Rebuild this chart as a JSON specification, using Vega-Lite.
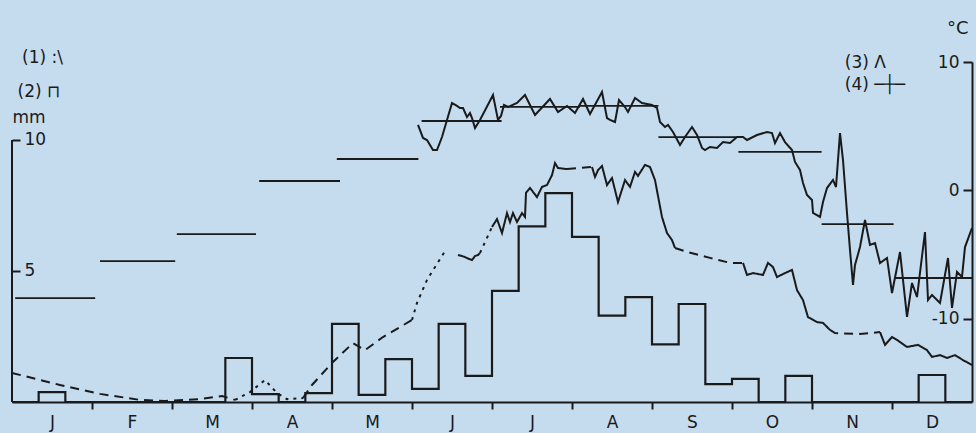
{
  "$schema": "https://vega.github.io/schema/vega-lite/v6.json",
  "width": 960,
  "height": 340,
  "autosize": {"type": "none"},
  "padding": {"left": 12, "top": 62, "right": 4, "bottom": 31},
  "background": "#c5dcef",
  "config": {
    "view": {"stroke": null},
    "axis": {"labelFont": "DejaVu Sans", "titleFont": "DejaVu Sans", "labelColor": "#1a1a1a", "titleColor": "#1a1a1a", "domainColor": "#1a1a1a", "tickColor": "#1a1a1a", "grid": false, "domainWidth": 2, "tickWidth": 2, "labelFontSize": 17, "titleFontWeight": "normal"},
    "text": {"font": "DejaVu Sans", "color": "#1a1a1a"}
  },
  "datasets": {
    "precip": [
      {"m": 0, "mm": 0}, {"m": 0.3333, "mm": 0.38}, {"m": 0.6667, "mm": 0}, {"m": 1, "mm": 0}, {"m": 1.3333, "mm": 0}, {"m": 1.6667, "mm": 0},
      {"m": 2, "mm": 0}, {"m": 2.3333, "mm": 0}, {"m": 2.6667, "mm": 1.68}, {"m": 3, "mm": 0.3}, {"m": 3.3333, "mm": 0}, {"m": 3.6667, "mm": 0.34},
      {"m": 4, "mm": 2.98}, {"m": 4.3333, "mm": 0.27}, {"m": 4.6667, "mm": 1.64}, {"m": 5, "mm": 0.5}, {"m": 5.3333, "mm": 2.98}, {"m": 5.6667, "mm": 1.0},
      {"m": 6, "mm": 4.24}, {"m": 6.3333, "mm": 6.7}, {"m": 6.6667, "mm": 7.97}, {"m": 7, "mm": 6.3}, {"m": 7.3333, "mm": 3.3}, {"m": 7.6667, "mm": 4.0},
      {"m": 8, "mm": 2.2}, {"m": 8.3333, "mm": 3.74}, {"m": 8.6667, "mm": 0.68}, {"m": 9, "mm": 0.88}, {"m": 9.3333, "mm": 0}, {"m": 9.6667, "mm": 1.0},
      {"m": 10, "mm": 0}, {"m": 10.3333, "mm": 0}, {"m": 10.6667, "mm": 0}, {"m": 11, "mm": 0}, {"m": 11.3333, "mm": 1.03}, {"m": 11.6667, "mm": 0},
      {"m": 12, "mm": 0}
    ],
    "curve1": [
      {"s": "A", "k": "dashed", "m": 0, "mm": 1.11}, {"s": "A", "k": "dashed", "m": 0.6, "mm": 0.65}, {"s": "A", "k": "dashed", "m": 1.1, "mm": 0.31}, {"s": "A", "k": "dashed", "m": 1.6, "mm": 0.08}, {"s": "A", "k": "dashed", "m": 1.9125, "mm": 0.04}, {"s": "A", "k": "dashed", "m": 2.35, "mm": 0.11}, {"s": "A", "k": "dashed", "m": 2.625, "mm": 0.23}, {"s": "A", "k": "dashed", "m": 2.7875, "mm": 0.08},
      {"s": "B", "k": "dotted", "m": 2.7875, "mm": 0.08}, {"s": "B", "k": "dotted", "m": 2.975, "mm": 0.38}, {"s": "B", "k": "dotted", "m": 3.1625, "mm": 0.84}, {"s": "B", "k": "dotted", "m": 3.3125, "mm": 0.34}, {"s": "B", "k": "dotted", "m": 3.4375, "mm": 0.11}, {"s": "B", "k": "dotted", "m": 3.6375, "mm": 0.15},
      {"s": "C", "k": "dashed", "m": 3.6375, "mm": 0.15}, {"s": "C", "k": "dashed", "m": 3.75, "mm": 0.65}, {"s": "C", "k": "dashed", "m": 4.0125, "mm": 1.53}, {"s": "C", "k": "dashed", "m": 4.2625, "mm": 2.25}, {"s": "C", "k": "dashed", "m": 4.4125, "mm": 1.98}, {"s": "C", "k": "dashed", "m": 4.6375, "mm": 2.48}, {"s": "C", "k": "dashed", "m": 5.0, "mm": 3.13},
      {"s": "D", "k": "dotted", "m": 5.0, "mm": 3.13}, {"s": "D", "k": "dotted", "m": 5.0625, "mm": 3.78}, {"s": "D", "k": "dotted", "m": 5.1875, "mm": 4.66}, {"s": "D", "k": "dotted", "m": 5.4125, "mm": 5.76},
      {"s": "E", "k": "solid", "m": 5.575, "mm": 5.61}, {"s": "E", "k": "solid", "m": 5.625, "mm": 5.57}, {"s": "E", "k": "solid", "m": 5.6625, "mm": 5.53}, {"s": "E", "k": "solid", "m": 5.7125, "mm": 5.46}, {"s": "E", "k": "solid", "m": 5.75, "mm": 5.42}, {"s": "E", "k": "solid", "m": 5.7875, "mm": 5.57}, {"s": "E", "k": "solid", "m": 5.825, "mm": 5.61}, {"s": "E", "k": "solid", "m": 5.85, "mm": 5.69},
      {"s": "F", "k": "dotted", "m": 5.85, "mm": 5.69}, {"s": "F", "k": "dotted", "m": 5.925, "mm": 6.18}, {"s": "F", "k": "dotted", "m": 6.0, "mm": 6.68},
      {"s": "G", "k": "solid", "m": 6.0, "mm": 6.68}, {"s": "G", "k": "solid", "m": 6.0625, "mm": 6.98}, {"s": "G", "k": "solid", "m": 6.125, "mm": 6.45}, {"s": "G", "k": "solid", "m": 6.1875, "mm": 7.21}, {"s": "G", "k": "solid", "m": 6.225, "mm": 6.87}, {"s": "G", "k": "solid", "m": 6.2625, "mm": 7.21}, {"s": "G", "k": "solid", "m": 6.3125, "mm": 6.87}, {"s": "G", "k": "solid", "m": 6.375, "mm": 7.21}, {"s": "G", "k": "solid", "m": 6.4125, "mm": 7.06}, {"s": "G", "k": "solid", "m": 6.425, "mm": 7.98}, {"s": "G", "k": "solid", "m": 6.475, "mm": 8.17}, {"s": "G", "k": "solid", "m": 6.5625, "mm": 7.82}, {"s": "G", "k": "solid", "m": 6.625, "mm": 8.21}, {"s": "G", "k": "solid", "m": 6.6875, "mm": 8.28}, {"s": "G", "k": "solid", "m": 6.75, "mm": 8.66}, {"s": "G", "k": "solid", "m": 6.7875, "mm": 9.12}, {"s": "G", "k": "solid", "m": 6.825, "mm": 8.93}, {"s": "G", "k": "solid", "m": 6.9375, "mm": 8.89},
      {"s": "H", "k": "dashed", "m": 6.9375, "mm": 8.89}, {"s": "H", "k": "dashed", "m": 7.1, "mm": 8.93}, {"s": "H", "k": "dashed", "m": 7.25, "mm": 8.97},
      {"s": "I", "k": "solid", "m": 7.25, "mm": 8.97}, {"s": "I", "k": "solid", "m": 7.2875, "mm": 8.59}, {"s": "I", "k": "solid", "m": 7.325, "mm": 8.85}, {"s": "I", "k": "solid", "m": 7.375, "mm": 9.01}, {"s": "I", "k": "solid", "m": 7.4375, "mm": 8.28}, {"s": "I", "k": "solid", "m": 7.5, "mm": 8.55}, {"s": "I", "k": "solid", "m": 7.575, "mm": 7.63}, {"s": "I", "k": "solid", "m": 7.6625, "mm": 8.47}, {"s": "I", "k": "solid", "m": 7.725, "mm": 8.21}, {"s": "I", "k": "solid", "m": 7.7875, "mm": 8.78}, {"s": "I", "k": "solid", "m": 7.825, "mm": 8.63}, {"s": "I", "k": "solid", "m": 7.9125, "mm": 9.05}, {"s": "I", "k": "solid", "m": 7.975, "mm": 8.97}, {"s": "I", "k": "solid", "m": 8.0375, "mm": 8.47}, {"s": "I", "k": "solid", "m": 8.125, "mm": 7.06}, {"s": "I", "k": "solid", "m": 8.1875, "mm": 6.45}, {"s": "I", "k": "solid", "m": 8.25, "mm": 6.18}, {"s": "I", "k": "solid", "m": 8.2875, "mm": 5.88},
      {"s": "J", "k": "dashed", "m": 8.2875, "mm": 5.88}, {"s": "J", "k": "dashed", "m": 8.4375, "mm": 5.73}, {"s": "J", "k": "dashed", "m": 8.725, "mm": 5.5}, {"s": "J", "k": "dashed", "m": 8.975, "mm": 5.31}, {"s": "J", "k": "dashed", "m": 9.1375, "mm": 5.31},
      {"s": "K", "k": "solid", "m": 9.1375, "mm": 5.31}, {"s": "K", "k": "solid", "m": 9.1875, "mm": 4.85}, {"s": "K", "k": "solid", "m": 9.2625, "mm": 4.92}, {"s": "K", "k": "solid", "m": 9.3875, "mm": 4.85}, {"s": "K", "k": "solid", "m": 9.45, "mm": 5.31}, {"s": "K", "k": "solid", "m": 9.5125, "mm": 5.15}, {"s": "K", "k": "solid", "m": 9.5625, "mm": 4.77}, {"s": "K", "k": "solid", "m": 9.6625, "mm": 4.92}, {"s": "K", "k": "solid", "m": 9.75, "mm": 5.04}, {"s": "K", "k": "solid", "m": 9.8125, "mm": 4.27}, {"s": "K", "k": "solid", "m": 9.8875, "mm": 3.89}, {"s": "K", "k": "solid", "m": 9.95, "mm": 3.24}, {"s": "K", "k": "solid", "m": 10.0625, "mm": 3.05}, {"s": "K", "k": "solid", "m": 10.1375, "mm": 3.02}, {"s": "K", "k": "solid", "m": 10.225, "mm": 2.75},
      {"s": "L", "k": "dashed", "m": 10.225, "mm": 2.75}, {"s": "L", "k": "dashed", "m": 10.2875, "mm": 2.63}, {"s": "L", "k": "dashed", "m": 10.6, "mm": 2.6}, {"s": "L", "k": "dashed", "m": 10.725, "mm": 2.63}, {"s": "L", "k": "dashed", "m": 10.85, "mm": 2.67},
      {"s": "M", "k": "solid", "m": 10.85, "mm": 2.67}, {"s": "M", "k": "solid", "m": 10.9125, "mm": 2.18}, {"s": "M", "k": "solid", "m": 11.0, "mm": 2.48}, {"s": "M", "k": "solid", "m": 11.0625, "mm": 2.37}, {"s": "M", "k": "solid", "m": 11.1875, "mm": 2.1}, {"s": "M", "k": "solid", "m": 11.325, "mm": 2.18}, {"s": "M", "k": "solid", "m": 11.4375, "mm": 1.98}, {"s": "M", "k": "solid", "m": 11.5, "mm": 1.72}, {"s": "M", "k": "solid", "m": 11.6, "mm": 1.79}, {"s": "M", "k": "solid", "m": 11.6875, "mm": 1.68}, {"s": "M", "k": "solid", "m": 11.7875, "mm": 1.79}, {"s": "M", "k": "solid", "m": 11.8875, "mm": 1.6}, {"s": "M", "k": "solid", "m": 12.0, "mm": 1.41}
    ],
    "temp": [
      {"m": 5.075, "t": 5.1}, {"m": 5.1375, "t": 4.09}, {"m": 5.1875, "t": 3.93}, {"m": 5.2625, "t": 3.15}, {"m": 5.3125, "t": 3.15}, {"m": 5.375, "t": 4.16}, {"m": 5.4375, "t": 5.49}, {"m": 5.5, "t": 6.81}, {"m": 5.5625, "t": 6.58}, {"m": 5.6, "t": 6.42}, {"m": 5.6375, "t": 6.42}, {"m": 5.6875, "t": 5.72}, {"m": 5.725, "t": 6.03}, {"m": 5.75, "t": 5.64}, {"m": 5.7875, "t": 4.86}, {"m": 5.85, "t": 5.49},
      {"m": 6.0125, "t": 7.43}, {"m": 6.075, "t": 5.49}, {"m": 6.1125, "t": 5.8}, {"m": 6.15, "t": 6.65}, {"m": 6.2, "t": 6.5}, {"m": 6.3125, "t": 6.81}, {"m": 6.4125, "t": 7.43}, {"m": 6.5375, "t": 5.88}, {"m": 6.725, "t": 7.12}, {"m": 6.825, "t": 6.11}, {"m": 6.9375, "t": 6.58}, {"m": 7.0375, "t": 6.03}, {"m": 7.1375, "t": 7.12}, {"m": 7.225, "t": 5.95}, {"m": 7.375, "t": 7.67}, {"m": 7.4375, "t": 5.64}, {"m": 7.475, "t": 5.49}, {"m": 7.5375, "t": 5.33}, {"m": 7.5875, "t": 7.04}, {"m": 7.6625, "t": 6.5}, {"m": 7.7, "t": 6.11}, {"m": 7.7875, "t": 7.2}, {"m": 7.875, "t": 6.81},
      {"m": 8.0, "t": 6.65}, {"m": 8.0625, "t": 6.42}, {"m": 8.1, "t": 5.33}, {"m": 8.1625, "t": 4.94}, {"m": 8.2, "t": 5.1}, {"m": 8.2625, "t": 4.55}, {"m": 8.35, "t": 3.54}, {"m": 8.4125, "t": 4.16}, {"m": 8.5, "t": 4.94}, {"m": 8.5625, "t": 4.32}, {"m": 8.625, "t": 3.31}, {"m": 8.6625, "t": 3.15}, {"m": 8.725, "t": 3.39}, {"m": 8.8125, "t": 3.31}, {"m": 8.8875, "t": 3.77}, {"m": 8.975, "t": 3.7},
      {"m": 9.0625, "t": 4.16}, {"m": 9.1375, "t": 4.16}, {"m": 9.1875, "t": 3.93}, {"m": 9.3125, "t": 4.32}, {"m": 9.4375, "t": 4.55}, {"m": 9.5, "t": 4.47}, {"m": 9.5375, "t": 3.7}, {"m": 9.6, "t": 4.47}, {"m": 9.6625, "t": 3.77}, {"m": 9.75, "t": 3.15}, {"m": 9.7875, "t": 2.22}, {"m": 9.85, "t": 1.6}, {"m": 9.8875, "t": 0.58}, {"m": 9.9375, "t": -0.35},
      {"m": 10.0, "t": -0.74}, {"m": 10.0125, "t": -1.75}, {"m": 10.1, "t": -2.06}, {"m": 10.1375, "t": -0.89}, {"m": 10.1875, "t": 0.19}, {"m": 10.2625, "t": 0.82}, {"m": 10.3, "t": 0.27}, {"m": 10.35, "t": 4.47}, {"m": 10.3875, "t": 2.37}, {"m": 10.4375, "t": -1.75}, {"m": 10.475, "t": -4.63}, {"m": 10.5125, "t": -7.35}, {"m": 10.5375, "t": -5.8}, {"m": 10.6, "t": -4.4}, {"m": 10.6625, "t": -2.3}, {"m": 10.725, "t": -4.24}, {"m": 10.7875, "t": -4.09}, {"m": 10.85, "t": -5.64}, {"m": 10.9375, "t": -5.25},
      {"m": 11.0, "t": -7.98}, {"m": 11.1, "t": -4.79}, {"m": 11.1875, "t": -9.84}, {"m": 11.25, "t": -7.2}, {"m": 11.3125, "t": -8.29}, {"m": 11.4125, "t": -3.23}, {"m": 11.45, "t": -8.52}, {"m": 11.5, "t": -8.13}, {"m": 11.6, "t": -8.75}, {"m": 11.7, "t": -5.25}, {"m": 11.75, "t": -9.14}, {"m": 11.8125, "t": -6.34}, {"m": 11.875, "t": -6.73}, {"m": 11.9125, "t": -4.4}, {"m": 12.0, "t": -2.92}
    ],
    "means": [
      {"m0": 0.04, "m1": 1.04, "t": -8.37}, {"m0": 1.1, "m1": 2.04, "t": -5.49}, {"m0": 2.06, "m1": 3.05, "t": -3.39}, {"m0": 3.09, "m1": 4.1, "t": 0.74},
      {"m0": 4.06, "m1": 5.08, "t": 2.45}, {"m0": 5.12, "m1": 6.12, "t": 5.41}, {"m0": 6.1, "m1": 7.1, "t": 6.5}, {"m0": 7.1, "m1": 8.08, "t": 6.58},
      {"m0": 8.08, "m1": 9.06, "t": 4.16}, {"m0": 9.08, "m1": 10.12, "t": 3.0}, {"m0": 10.12, "m1": 11.02, "t": -2.61}, {"m0": 11.04, "m1": 12, "t": -6.81}
    ]
  },
  "layer": [
    {
      "layer": [
        {
          "data": {"name": "precip"},
          "mark": {"type": "line", "interpolate": "step-after", "color": "#1a1a1a", "strokeWidth": 2.2},
          "encoding": {
            "x": {"field": "m", "type": "quantitative", "scale": {"domain": [0, 12], "nice": false, "zero": false},
              "axis": {"values": [0.5, 1, 1.5, 2, 2.5, 3, 3.5, 4, 4.5, 5, 5.5, 6, 6.5, 7, 7.5, 8, 8.5, 9, 9.5, 10, 10.5, 11, 11.5],
                "labelExpr": "datum.value % 1 == 0.5 ? ['J','F','M','A','M','J','J','A','S','O','N','D'][floor(datum.value)] : ''",
                "tickOpacity": {"condition": {"test": "datum.value % 1 != 0", "value": 0}, "value": 1},
                "tickSize": 7, "labelPadding": 5, "title": null, "labelFlush": false, "labelOverlap": false, "labelFontSize": 17}},
            "y": {"field": "mm", "type": "quantitative", "scale": {"domain": [0, 12.977], "nice": false, "zero": false},
              "axis": {"orient": "left", "values": [5, 10], "domain": false, "tickSize": -8, "labelPadding": -4, "labelAlign": "left", "labelBaseline": "middle",
                "title": "mm", "titleAngle": 0, "titleAlign": "left", "titleBaseline": "alphabetic", "titleX": 0, "titleY": 60, "titleFontSize": 17}}
          }
        },
        {
          "data": {"name": "curve1"},
          "mark": {"type": "line", "color": "#1a1a1a", "strokeWidth": 2},
          "encoding": {
            "x": {"field": "m", "type": "quantitative", "scale": {"domain": [0, 12], "nice": false, "zero": false}},
            "y": {"field": "mm", "type": "quantitative", "scale": {"domain": [0, 12.977], "nice": false, "zero": false}},
            "detail": {"field": "s", "type": "nominal"},
            "strokeDash": {"field": "k", "type": "nominal", "scale": {"domain": ["solid", "dashed", "dotted"], "range": [[1, 0], [9, 6], [3, 5]]}, "legend": null}
          }
        },
        {
          "data": {"values": [{}]},
          "mark": {"type": "rule", "color": "#1a1a1a", "strokeWidth": 2},
          "encoding": {
            "x": {"datum": 0, "type": "quantitative"},
            "y": {"datum": 0, "type": "quantitative"},
            "y2": {"datum": 10}
          }
        },
        {
          "data": {"values": [{}]},
          "mark": {"type": "text", "text": "(1)  :\\", "align": "left", "baseline": "alphabetic", "fontSize": 17},
          "encoding": {
            "x": {"datum": 0.125, "type": "quantitative"},
            "y": {"datum": 12.94, "type": "quantitative"}
          }
        },
        {
          "data": {"values": [{}]},
          "mark": {"type": "text", "text": "(2)  ⊓", "align": "left", "baseline": "alphabetic", "fontSize": 17},
          "encoding": {
            "x": {"datum": 0.07, "type": "quantitative"},
            "y": {"datum": 11.64, "type": "quantitative"}
          }
        }
      ]
    },
    {
      "layer": [
        {
          "data": {"name": "temp"},
          "mark": {"type": "line", "color": "#1a1a1a", "strokeWidth": 2},
          "encoding": {
            "x": {"field": "m", "type": "quantitative", "scale": {"domain": [0, 12], "nice": false, "zero": false}},
            "y": {"field": "t", "type": "quantitative", "scale": {"domain": [-16.46, 10], "nice": false, "zero": false},
              "axis": {"orient": "right", "values": [-10, 0, 10], "tickSize": -9, "labelPadding": -4, "labelAlign": "right", "labelBaseline": "middle",
                "labelExpr": "'' + datum.value",
                "title": "°C", "titleAngle": 0, "titleAlign": "right", "titleBaseline": "alphabetic", "titleX": -4, "titleY": -29, "titleFontSize": 18}}
          }
        },
        {
          "data": {"name": "means"},
          "mark": {"type": "rule", "color": "#1a1a1a", "strokeWidth": 1.8},
          "encoding": {
            "x": {"field": "m0", "type": "quantitative", "scale": {"domain": [0, 12], "nice": false, "zero": false}},
            "x2": {"field": "m1"},
            "y": {"field": "t", "type": "quantitative", "scale": {"domain": [-16.46, 10], "nice": false, "zero": false}}
          }
        },
        {
          "data": {"values": [{}]},
          "mark": {"type": "text", "text": "(3)  Λ", "align": "left", "baseline": "alphabetic", "fontSize": 17},
          "encoding": {
            "x": {"datum": 10.41, "type": "quantitative"},
            "y": {"datum": 9.53, "type": "quantitative"}
          }
        },
        {
          "data": {"values": [{}]},
          "mark": {"type": "text", "text": "(4) ─┼─", "align": "left", "baseline": "alphabetic", "fontSize": 17},
          "encoding": {
            "x": {"datum": 10.41, "type": "quantitative"},
            "y": {"datum": 7.82, "type": "quantitative"}
          }
        }
      ]
    }
  ],
  "resolve": {"scale": {"y": "independent"}}
}
